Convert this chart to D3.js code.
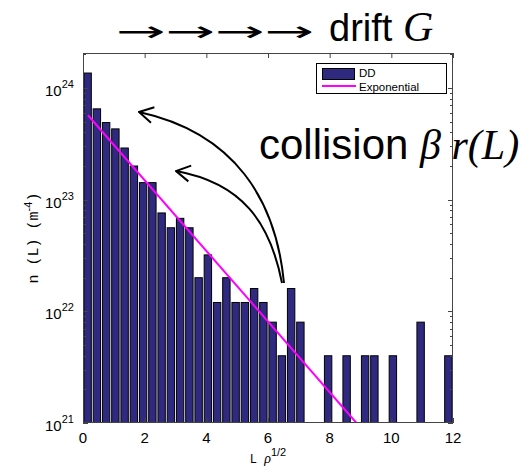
<!DOCTYPE html>
<html>
<head>
<meta charset="utf-8">
<script src="https://cdn.jsdelivr.net/npm/d3@7"></script>
<style>
  body { margin: 0; background: #fff; }
  svg { display: block; }
</style>
</head>
<body>
<svg width="532" height="471"></svg>
<script>
// bin centres (L rho^1/2) and DD values n(L) in m^-4
let binCenters = [0.15, 0.45, 0.75, 1.05, 1.35, 1.65, 1.95, 2.25, 2.55, 2.85,
                  3.15, 3.45, 3.75, 4.05, 4.35, 4.65, 4.95, 5.25, 5.55, 5.85,
                  6.15, 6.45, 6.75, 7.05, 7.35, 7.65, 7.95, 8.25, 8.55, 8.85,
                  9.15, 9.45, 9.75, 10.05, 10.35, 10.65, 10.95, 11.25, 11.55, 11.85];
let ddValues = [1.36e24, 6.5e23, 4.9e23, 4.3e23, 2.9e23, 2.0e23, 1.42e23, 1.42e23, 7.6e22, 5.6e22,
                6.8e22, 5.6e22, 2.0e22, 3.2e22, 1.2e22, 2.0e22, 1.2e22, 1.2e22, 1.6e22, 1.2e22,
                8e21, 4e21, 1.6e22, 8e21, 0, 0, 4e21, 0, 4e21, 0,
                4e21, 4e21, 0, 4e21, 0, 0, 8e21, 0, 0, 4e21];
// exponential fit, straight on the log axis
let expX = [0.16, 8.87];
let expY = [5.7e23, 1e21];

let xTicks = [0, 2, 4, 6, 8, 10, 12];
let yTicks = [1e21, 1e22, 1e23, 1e24];

let pLeft = 83, pRight = 453, pTop = 53, pBottom = 423;
let binWidth = 0.3;

let svg = d3.select('svg');

let x = d3.scaleLinear().domain([0, 12]).range([pLeft, pRight]);
let y = d3.scaleLog().domain([1e21, Math.pow(10, 24.313)]).range([pBottom, pTop]);

svg.append("clipPath").attr("id", "plot")
    .append("rect")
    .attr("x", pLeft).attr("y", pTop)
    .attr("width", pRight - pLeft).attr("height", pBottom - pTop);

// bars
let barW = x(binWidth * 0.8) - x(0);
let bars = binCenters.map((c, i) => ({c: c, v: ddValues[i]})).filter(d => d.v > 0);

svg.append("g").attr("clip-path", "url(#plot)")
    .selectAll("rect")
    .data(bars)
    .enter()
    .append("rect")
    .attr("x", d => x(d.c) - barW / 2)
    .attr("y", d => y(d.v))
    .attr("width", barW)
    .attr("height", d => pBottom - y(d.v) + 2)
    .attr("fill", "#2f2a80")
    .attr("stroke", "#000")
    .attr("stroke-width", 1);

// exponential line
let line = d3.line().x(d => x(d[0])).y(d => y(d[1]));
svg.append("path")
    .attr("clip-path", "url(#plot)")
    .attr("d", line(expX.map((v, i) => [v, expY[i]])))
    .attr("fill", "none")
    .attr("stroke", "#ff00ff")
    .attr("stroke-width", 2);

// box + ticks (inward, mirrored)
let axes = svg.append("g").attr("stroke", "#444").attr("stroke-width", 1).attr("fill", "none");
axes.append("rect")
    .attr("x", pLeft + 0.5).attr("y", pTop + 0.5)
    .attr("width", pRight - pLeft - 1).attr("height", pBottom - pTop - 1);

xTicks.forEach(t => {
    axes.append("line").attr("x1", x(t) + 0.5).attr("x2", x(t) + 0.5).attr("y1", pBottom).attr("y2", pBottom - 5);
    axes.append("line").attr("x1", x(t) + 0.5).attr("x2", x(t) + 0.5).attr("y1", pTop).attr("y2", pTop + 5);
});

let minor = [];
[1e21, 1e22, 1e23, 1e24].forEach(dec => {
    for (let k = 1; k <= 9; k++) {
        let v = dec * k;
        if (v <= y.domain()[1]) minor.push({v: v, major: k === 1});
    }
});
minor.forEach(m => {
    let yy = Math.round(y(m.v)) + 0.5;
    let len = m.major ? 5 : 3;
    axes.append("line").attr("x1", pLeft).attr("x2", pLeft + len).attr("y1", yy).attr("y2", yy);
    axes.append("line").attr("x1", pRight).attr("x2", pRight - len).attr("y1", yy).attr("y2", yy);
});

// tick labels
svg.append("g").selectAll("text")
    .data(xTicks)
    .enter()
    .append("text")
    .attr("x", d => x(d))
    .attr("y", pBottom + 20)
    .attr("text-anchor", "middle")
    .attr("font-family", "Liberation Sans, Arial, sans-serif")
    .attr("font-size", 15)
    .text(d => d);

let yl = svg.append("g").selectAll("text")
    .data(yTicks)
    .enter()
    .append("text")
    .attr("x", 45)
    .attr("y", d => y(d) + 8)
    .attr("font-family", "Liberation Sans, Arial, sans-serif")
    .attr("font-size", 15);
yl.append("tspan").text("10");
yl.append("tspan").attr("dy", -8).attr("font-size", 11).text(d => Math.round(Math.log10(d)));

// axis labels
let ylab = svg.append("text")
    .attr("transform", "translate(38," + (pTop + pBottom) / 2 + ") rotate(-90)")
    .attr("text-anchor", "middle")
    .attr("font-size", 15);
ylab.append("tspan").attr("font-family", "Liberation Mono, monospace").text("n (L)  (m");
ylab.append("tspan").attr("font-family", "Liberation Sans, sans-serif").attr("font-size", 11).attr("dy", -6).text("-4");
ylab.append("tspan").attr("font-family", "Liberation Mono, monospace").attr("dy", 6).text(")");

let xlab = svg.append("text")
    .attr("x", 268).attr("y", 463)
    .attr("text-anchor", "middle")
    .attr("font-size", 12);
xlab.append("tspan").attr("font-family", "Liberation Mono, monospace").text("L ");
xlab.append("tspan").attr("font-family", "Liberation Serif, serif").attr("font-style", "italic").attr("font-size", 14).text("ρ");
xlab.append("tspan").attr("font-family", "Liberation Sans, sans-serif").attr("font-size", 11).attr("dy", -7).text("1/2");

// legend
let lg = svg.append("g");
lg.append("rect").attr("x", 316.5).attr("y", 63.5).attr("width", 130).attr("height", 30)
    .attr("fill", "#fff").attr("stroke", "#000");
lg.append("rect").attr("x", 322.5).attr("y", 68.5).attr("width", 32).attr("height", 11)
    .attr("fill", "#2f2a80").attr("stroke", "#000");
lg.append("line").attr("x1", 322).attr("x2", 356).attr("y1", 86).attr("y2", 86)
    .attr("stroke", "#ff00ff").attr("stroke-width", 2);
lg.append("text").attr("x", 359).attr("y", 77).attr("font-family", "Liberation Sans, sans-serif")
    .attr("font-size", 11.5).text("DD");
lg.append("text").attr("x", 359).attr("y", 90.5).attr("font-family", "Liberation Sans, sans-serif")
    .attr("font-size", 11.5).text("Exponential");

// annotations
let arrows = svg.append("text")
    .attr("font-family", "DejaVu Sans, sans-serif").attr("font-size", 28)
    .text("→→→→");
let arrLen = arrows.node().getComputedTextLength();
arrows.attr("transform", "translate(116,41) scale(" + (198 / arrLen) + ",1)");

let drift = svg.append("text").attr("x", 329).attr("y", 41).attr("font-size", 38);
drift.append("tspan").attr("font-family", "Liberation Sans, sans-serif").text("drift ");
drift.append("tspan").attr("font-family", "Liberation Serif, serif").attr("font-style", "italic")
    .attr("font-size", 42).text("G");

let coll = svg.append("text").attr("x", 259).attr("y", 159).attr("font-size", 42);
coll.append("tspan").attr("font-family", "Liberation Sans, sans-serif").text("collision ");
coll.append("tspan").attr("font-family", "Liberation Serif, serif").attr("font-style", "italic").text("β");
coll.append("tspan").attr("font-family", "Liberation Serif, serif").attr("font-style", "italic").text(" r(L)");

// curved arrows
let defs = svg.append("defs");
defs.append("marker").attr("id", "ah")
    .attr("viewBox", "0 0 20 20").attr("refX", 19).attr("refY", 10)
    .attr("markerWidth", 20).attr("markerHeight", 20)
    .attr("markerUnits", "userSpaceOnUse")
    .attr("orient", "auto")
    .append("path").attr("d", "M5,2 L19,10 L5,18")
    .attr("fill", "none").attr("stroke", "#000").attr("stroke-width", 2);

svg.append("path")
    .attr("d", "M284,283 C276,200 235,133 139,112")
    .attr("fill", "none").attr("stroke", "#000").attr("stroke-width", 2)
    .attr("marker-end", "url(#ah)");
svg.append("path")
    .attr("d", "M282,283 C270,222 242,183 176,171")
    .attr("fill", "none").attr("stroke", "#000").attr("stroke-width", 2)
    .attr("marker-end", "url(#ah)");
</script>
</body>
</html>
